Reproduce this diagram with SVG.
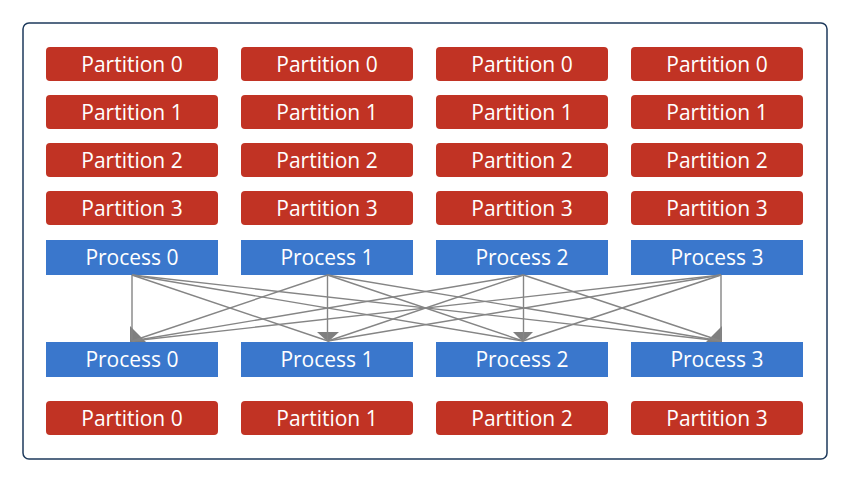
<svg xmlns="http://www.w3.org/2000/svg" width="850" height="482" viewBox="0 0 850 482">
<style>
.part{fill:#c13324;}
.proc{fill:#3a77cc;}
.lbl{fill:#ffffff;font-family:"Open Sans","Noto Sans",sans-serif;font-size:21px;font-weight:500;text-anchor:middle;}
.conn line{stroke:#858585;stroke-width:1.4;fill:none;}
.conn polygon{fill:#7f7f7f;}
</style>
<rect x="0" y="0" width="850" height="482" fill="#ffffff"/>
<rect id="frame" x="23" y="23" width="804" height="436" rx="6" fill="#ffffff" stroke="#1e3a5c" stroke-width="1.5"/>
<g id="col0">
<g id="p0_0"><rect class="part" x="46" y="47" width="172" height="34" rx="4"/><text class="lbl" x="132" y="71.5">Partition 0</text></g>
<g id="p0_1"><rect class="part" x="46" y="95" width="172" height="34" rx="4"/><text class="lbl" x="132" y="119.5">Partition 1</text></g>
<g id="p0_2"><rect class="part" x="46" y="143" width="172" height="34" rx="4"/><text class="lbl" x="132" y="167.5">Partition 2</text></g>
<g id="p0_3"><rect class="part" x="46" y="191" width="172" height="34" rx="4"/><text class="lbl" x="132" y="215.5">Partition 3</text></g>
<g id="src0"><rect class="proc" x="46" y="240" width="172" height="35"/><text class="lbl" x="132" y="265">Process 0</text></g>
<g id="dst0"><rect class="proc" x="46" y="342" width="172" height="35"/><text class="lbl" x="132" y="367">Process 0</text></g>
<g id="out0"><rect class="part" x="46" y="401" width="172" height="34" rx="4"/><text class="lbl" x="132" y="425.5">Partition 0</text></g>
</g>
<g id="col1">
<g id="p1_0"><rect class="part" x="241" y="47" width="172" height="34" rx="4"/><text class="lbl" x="327" y="71.5">Partition 0</text></g>
<g id="p1_1"><rect class="part" x="241" y="95" width="172" height="34" rx="4"/><text class="lbl" x="327" y="119.5">Partition 1</text></g>
<g id="p1_2"><rect class="part" x="241" y="143" width="172" height="34" rx="4"/><text class="lbl" x="327" y="167.5">Partition 2</text></g>
<g id="p1_3"><rect class="part" x="241" y="191" width="172" height="34" rx="4"/><text class="lbl" x="327" y="215.5">Partition 3</text></g>
<g id="src1"><rect class="proc" x="241" y="240" width="172" height="35"/><text class="lbl" x="327" y="265">Process 1</text></g>
<g id="dst1"><rect class="proc" x="241" y="342" width="172" height="35"/><text class="lbl" x="327" y="367">Process 1</text></g>
<g id="out1"><rect class="part" x="241" y="401" width="172" height="34" rx="4"/><text class="lbl" x="327" y="425.5">Partition 1</text></g>
</g>
<g id="col2">
<g id="p2_0"><rect class="part" x="436" y="47" width="172" height="34" rx="4"/><text class="lbl" x="522" y="71.5">Partition 0</text></g>
<g id="p2_1"><rect class="part" x="436" y="95" width="172" height="34" rx="4"/><text class="lbl" x="522" y="119.5">Partition 1</text></g>
<g id="p2_2"><rect class="part" x="436" y="143" width="172" height="34" rx="4"/><text class="lbl" x="522" y="167.5">Partition 2</text></g>
<g id="p2_3"><rect class="part" x="436" y="191" width="172" height="34" rx="4"/><text class="lbl" x="522" y="215.5">Partition 3</text></g>
<g id="src2"><rect class="proc" x="436" y="240" width="172" height="35"/><text class="lbl" x="522" y="265">Process 2</text></g>
<g id="dst2"><rect class="proc" x="436" y="342" width="172" height="35"/><text class="lbl" x="522" y="367">Process 2</text></g>
<g id="out2"><rect class="part" x="436" y="401" width="172" height="34" rx="4"/><text class="lbl" x="522" y="425.5">Partition 2</text></g>
</g>
<g id="col3">
<g id="p3_0"><rect class="part" x="631" y="47" width="172" height="34" rx="4"/><text class="lbl" x="717" y="71.5">Partition 0</text></g>
<g id="p3_1"><rect class="part" x="631" y="95" width="172" height="34" rx="4"/><text class="lbl" x="717" y="119.5">Partition 1</text></g>
<g id="p3_2"><rect class="part" x="631" y="143" width="172" height="34" rx="4"/><text class="lbl" x="717" y="167.5">Partition 2</text></g>
<g id="p3_3"><rect class="part" x="631" y="191" width="172" height="34" rx="4"/><text class="lbl" x="717" y="215.5">Partition 3</text></g>
<g id="src3"><rect class="proc" x="631" y="240" width="172" height="35"/><text class="lbl" x="717" y="265">Process 3</text></g>
<g id="dst3"><rect class="proc" x="631" y="342" width="172" height="35"/><text class="lbl" x="717" y="367">Process 3</text></g>
<g id="out3"><rect class="part" x="631" y="401" width="172" height="34" rx="4"/><text class="lbl" x="717" y="425.5">Partition 3</text></g>
</g>
<g id="connectors" class="conn">
<polygon points="130,326 130,342 146,342"/>
<polygon points="317,332 339,332 328,342"/>
<polygon points="513,332 533,332 523,342"/>
<polygon points="722,326 722,342 706,342"/>
<line x1="132" y1="275" x2="132" y2="341"/>
<line x1="132" y1="275" x2="328" y2="341"/>
<line x1="132" y1="275" x2="523" y2="341"/>
<line x1="132" y1="275" x2="721" y2="341"/>
<line x1="327.5" y1="275" x2="132" y2="341"/>
<line x1="327.5" y1="275" x2="327.5" y2="341"/>
<line x1="327.5" y1="275" x2="523" y2="341"/>
<line x1="327.5" y1="275" x2="721" y2="341"/>
<line x1="523.5" y1="275" x2="132" y2="341"/>
<line x1="523.5" y1="275" x2="328" y2="341"/>
<line x1="523.5" y1="275" x2="523.5" y2="341"/>
<line x1="523.5" y1="275" x2="721" y2="341"/>
<line x1="721" y1="275" x2="132" y2="341"/>
<line x1="721" y1="275" x2="328" y2="341"/>
<line x1="721" y1="275" x2="523" y2="341"/>
<line x1="721" y1="275" x2="721" y2="341"/>
</g>
</svg>
